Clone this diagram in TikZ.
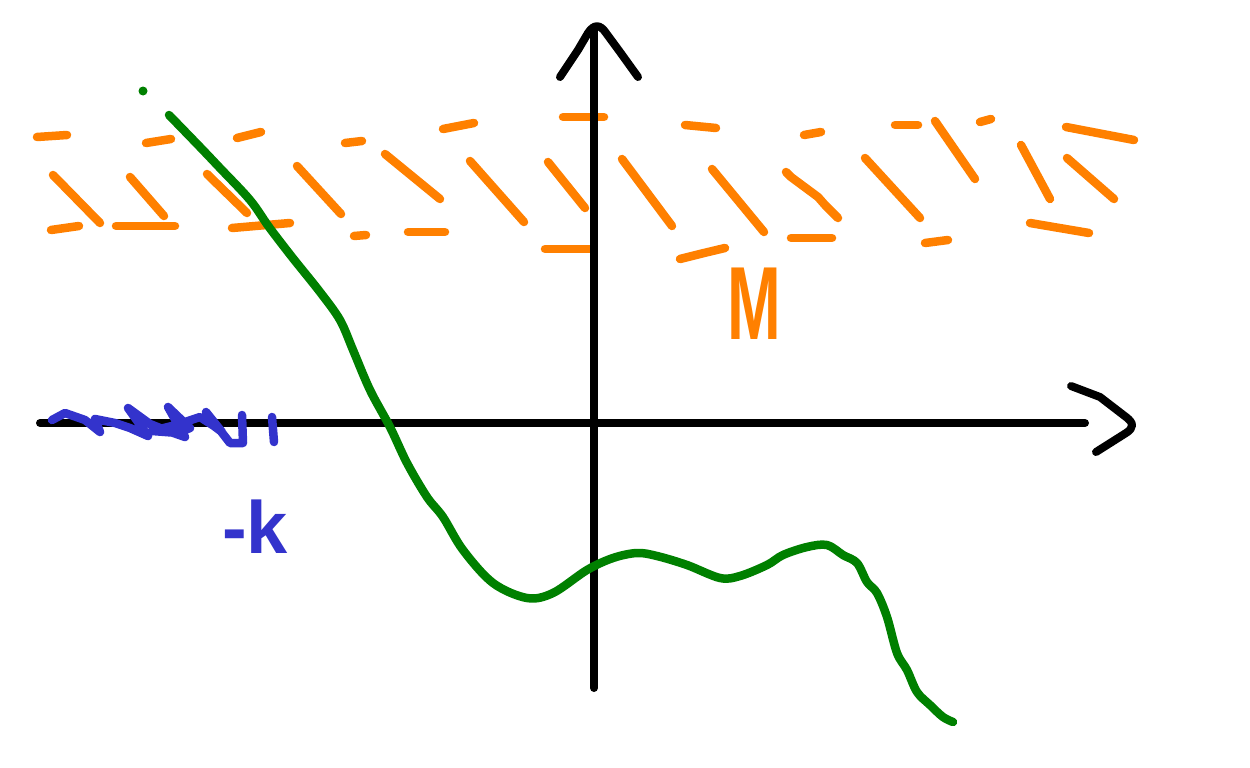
\documentclass[tikz,border=0pt]{standalone}
\usepackage{fontspec}
\usepackage{graphicx}
\setmainfont{Liberation Sans}
\definecolor{sketchorange}{RGB}{255,128,0}
\definecolor{sketchgreen}{RGB}{0,128,0}
\definecolor{sketchblue}{RGB}{51,51,204}
\tikzset{
  axisline/.style={black,line width=8pt,line cap=round,line join=round},
  hatch/.style={sketchorange,line width=8.5pt,line cap=round,line join=round},
  curveline/.style={sketchgreen,line width=8.5pt,line cap=round,line join=round},
  scribble/.style={sketchblue,line width=8.5pt,line cap=round,line join=round},
}
\begin{document}
\begin{tikzpicture}[x=1pt,y=-1pt]
\useasboundingbox[fill=white] (0,0) rectangle (1250,768);
% orange hatched band
\draw[hatch] (37,137) -- (67,135);
\draw[hatch] (146,143) -- (171,139);
\draw[hatch] (237,138) -- (261,132);
\draw[hatch] (345,143) -- (362,141);
\draw[hatch] (443,129) -- (474,123);
\draw[hatch] (563,117) -- (604,117);
\draw[hatch] (685,125) -- (716,128);
\draw[hatch] (804,135) -- (821,132);
\draw[hatch] (895,125) -- (918,125);
\draw[hatch] (935,121) -- (975,179);
\draw[hatch] (980,122) -- (991,119);
\draw[hatch] (1066,127) -- (1134,140);
\draw[hatch] (53,175) -- (100,223);
\draw[hatch] (130,177) -- (164,216);
\draw[hatch] (207,174) -- (247,213);
\draw[hatch] (297,166) -- (341,214);
\draw[hatch] (385,154) -- (440,199);
\draw[hatch] (470,161) -- (524,222);
\draw[hatch] (548,162) -- (585,208);
\draw[hatch] (622,159) -- (672,226);
\draw[hatch] (712,169) -- (764,232);
\draw[hatch] (786,172) -- (791,177) -- (818,197) -- (825,205) -- (838,218);
\draw[hatch] (865,158) -- (920,218);
\draw[hatch] (1021,145) -- (1050,199);
\draw[hatch] (1067,158) -- (1114,199);
\draw[hatch] (51,230) -- (79,226);
\draw[hatch] (116,226) -- (175,226);
\draw[hatch] (232,228) -- (290,223);
\draw[hatch] (354,236) -- (366,235);
\draw[hatch] (408,232) -- (445,232);
\draw[hatch] (545,249) -- (590,249);
\draw[hatch] (680,259) -- (704,253) -- (725,248);
\draw[hatch] (791,238) -- (832,238);
\draw[hatch] (925,243) -- (948,240);
\draw[hatch] (1030,223) -- (1089,233);
% axes
\coordinate (ytop) at (594,30);
\coordinate (ybot) at (594,688);
\coordinate (xleft) at (40,423);
\coordinate (xright) at (1085,423);
\draw[axisline] (ybot) -- (ytop);
\draw[axisline] (560,77) -- (578,50) -- (588,33) .. controls (594,24) and (600,24) .. (606,33) -- (620,52) -- (638,77);
\draw[axisline] (xleft) -- (xright);
\draw[axisline] (1071,386) -- (1100,397) -- (1126,417) .. controls (1134,423) and (1134,428) .. (1126,433) -- (1096,452);
% blue scribble
\draw[scribble] (52,420) -- (65,413) -- (85,420) -- (100,432) -- (95,419) -- (115,423) -- (130,428) -- (148,436) -- (128,408) -- (150,424) -- (165,430) -- (185,437) -- (168,407) -- (190,428) -- (178,433) -- (152,431) -- (176,425) -- (200,417) -- (214,426) -- (222,432) -- (206,412) -- (230,443) -- (243,443) -- (242,415);
\draw[scribble] (272,417) -- (274,442);
% green curve
\fill[sketchgreen] (143,91) circle[radius=4.5pt];
\draw[curveline] plot[smooth,tension=0.55] coordinates {
(169,115) (200,147) (219,167) (250,200) (269,227) (292,257) (320,292) (340,320)
(353,350) (370,390) (390,427) (407,463) (427,497) (443,517) (463,550) (493,583)
(527,598) (553,593) (587,570) (613,558) (637,553) (657,556) (687,565) (720,578)
(740,576) (767,565) (783,555) (807,547) (827,545) (843,555) (857,563) (867,582)
(877,593) (887,617) (897,653) (907,670) (917,692) (930,705) (943,717) (953,722)};
% labels
\node[text=sketchorange,inner sep=0pt,font=\fontsize{104}{104}\selectfont\bfseries] (mlabel) at (754,304) {\scalebox{0.62}[1]{M}};
\node[text=sketchblue,inner sep=0pt,anchor=west,font=\fontsize{74}{74}\selectfont\bfseries] (klabel) at (222,527) {-k};
\end{tikzpicture}
\end{document}
